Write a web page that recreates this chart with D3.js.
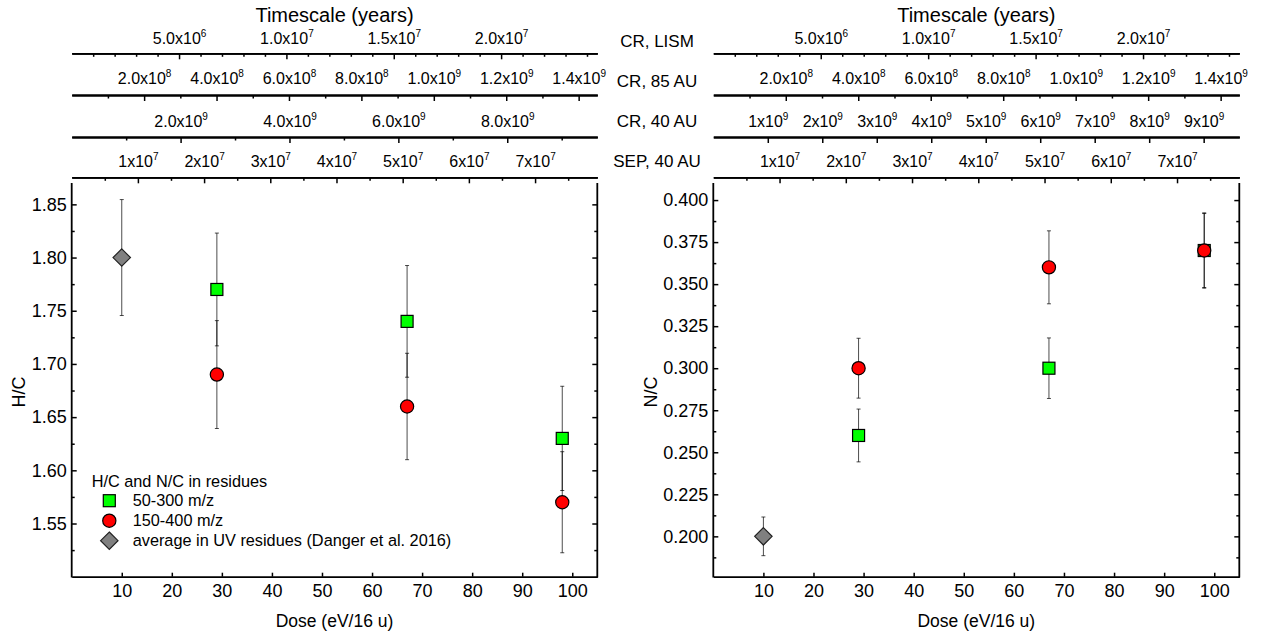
<!DOCTYPE html>
<html><head><meta charset="utf-8">
<script src="https://cdn.jsdelivr.net/npm/d3@7"></script>
<style>
body{margin:0;background:#fff}
svg{display:block;background:#fff}
text{font-family:"Liberation Sans",Arial,sans-serif;fill:#000}
</style></head><body>
<svg id="c" width="1263" height="631"></svg>
<script>
// ---------- data ----------
const doseTicks = [10,20,30,40,50,60,70,80,90,100];
const hcYTicks = [1.55,1.60,1.65,1.70,1.75,1.80,1.85];
const hcYMinor = [1.525,1.575,1.625,1.675,1.725,1.775,1.825];
const ncYTicks = [0.200,0.225,0.250,0.275,0.300,0.325,0.350,0.375,0.400];
const ncYMinor = [0.1875,0.2125,0.2375,0.2625,0.2875,0.3125,0.3375,0.3625,0.3875];

const uvDose = [10];
const uvHC = [1.80];      const uvHCErr = [0.0545];
const uvNC = [0.20];      const uvNCErr = [0.0115];

const msDose = [29, 67, 98];
const lowHC  = [1.77, 1.74, 1.63];   const lowHCErr  = [0.053, 0.0525, 0.049];
const highHC = [1.69, 1.66, 1.57];   const highHCErr = [0.0507, 0.050, 0.0475];
const lowNC  = [0.26, 0.30, 0.37];   const lowNCErr  = [0.0157, 0.018, 0.022];
const highNC = [0.30, 0.36, 0.37];   const highNCErr = [0.0178, 0.0217, 0.0224];

const rowNames = ["CR, LISM", "CR, 85 AU", "CR, 40 AU", "SEP, 40 AU"];
const lismMax = 2.448e7, au85Max = 1.4515e9, au40Max = 9.654e9, sepMax = 7.94e7;
const lismTicks = [5e6, 1e7, 1.5e7, 2e7];
const lismLabels = ["5.0x10^6","1.0x10^7","1.5x10^7","2.0x10^7"];
const au85Ticks = [2e8,4e8,6e8,8e8,1e9,1.2e9,1.4e9];
const au85Labels = ["2.0x10^8","4.0x10^8","6.0x10^8","8.0x10^8","1.0x10^9","1.2x10^9","1.4x10^9"];
const au40TicksL = [2e9,4e9,6e9,8e9];
const au40LabelsL = ["2.0x10^9","4.0x10^9","6.0x10^9","8.0x10^9"];
const au40TicksR = [1e9,2e9,3e9,4e9,5e9,6e9,7e9,8e9,9e9];
const au40LabelsR = ["1x10^9","2x10^9","3x10^9","4x10^9","5x10^9","6x10^9","7x10^9","8x10^9","9x10^9"];
const sepTicks = [1e7,2e7,3e7,4e7,5e7,6e7,7e7];
const sepLabels = ["1x10^7","2x10^7","3x10^7","4x10^7","5x10^7","6x10^7","7x10^7"];

const lismMinor = d3.range(1,25).filter(i=>i%5!==0).map(i=>i*1e6);
const au85Minor = d3.range(1,14,2).map(i=>i*1e8);
const au40MinorL = d3.range(1,10,2).map(i=>i*1e9);
const sepMinor = d3.range(0,8).map(i=>5e6+i*1e7);

const legendTitle = "H/C and N/C in residues";
const legendNames = ["50-300 m/z","150-400 m/z","average in UV residues (Danger et al. 2016)"];

// ---------- layout ----------
const svg = d3.select('#c');
const yTop = 176.7, yBot = 576.7, vTop = 183;
const rowY = [53.3, 95, 137, 177.3];
const rowPad = [9.3, 11, 9.7, 10];
const rowLabelBase = [46.7, 86.7, 126.7, 167.3];

const panels = [
  {x0:71.7, x1:597.3, yDom:[1.5,1.876], yT:hcYTicks, yM:hcYMinor, fmt:d3.format('.2f'), ylab:'H/C', ylabX:25,
   uv:[uvHC,uvHCErr], low:[lowHC,lowHCErr], high:[highHC,highHCErr],
   rows:[[lismMax,lismTicks,lismLabels,lismMinor],[au85Max,au85Ticks,au85Labels,au85Minor],[au40Max,au40TicksL,au40LabelsL,au40MinorL],[sepMax,sepTicks,sepLabels,sepMinor]], legend:true},
  {x0:713.3, x1:1239.3, yDom:[0.176,0.4139], yT:ncYTicks, yM:ncYMinor, fmt:d3.format('.3f'), ylab:'N/C', ylabX:657.3,
   uv:[uvNC,uvNCErr], low:[lowNC,lowNCErr], high:[highNC,highNCErr],
   rows:[[lismMax,lismTicks,lismLabels,lismMinor],[au85Max,au85Ticks,au85Labels,au85Minor],[au40Max,au40TicksR,au40LabelsR,[]],[sepMax,sepTicks,sepLabels,sepMinor]], legend:false}
];

function clean(g, fs){
  g.attr('font-family',null).attr('font-size',fs);
  g.selectAll('.tick line').attr('stroke-width',1.5);
  g.select('.domain').attr('stroke-width',1.8);
}

function supLabel(sel){
  sel.each(function(){
    const t = d3.select(this);
    const parts = t.text().split('^');
    t.text(parts[0]);
    t.append('tspan').attr('dy',-7.5).attr('font-size',10).text(parts[1]);
  });
}

function drawErr(g, x, y, xs, vs, es){
  const eg = g.append('g').attr('stroke','#000').attr('stroke-width',1).attr('stroke-opacity',0.7);
  xs.forEach((d,i)=>{
    const cx = x(d), yt = y(vs[i]+es[i]), yb = y(vs[i]-es[i]);
    eg.append('line').attr('x1',cx).attr('x2',cx).attr('y1',yt).attr('y2',yb);
    eg.append('line').attr('x1',cx-2).attr('x2',cx+2).attr('y1',yt).attr('y2',yt);
    eg.append('line').attr('x1',cx-2).attr('x2',cx+2).attr('y1',yb).attr('y2',yb);
  });
}
const sq = (g,cx,cy)=>g.append('rect').attr('x',cx-6).attr('y',cy-6).attr('width',12).attr('height',12)
  .attr('fill','#00ff00').attr('stroke','#000').attr('stroke-width',1.2);
const ci = (g,cx,cy)=>g.append('circle').attr('cx',cx).attr('cy',cy).attr('r',6.6)
  .attr('fill','#ff0000').attr('stroke','#000').attr('stroke-width',1.2);
const di = (g,cx,cy)=>g.append('path').attr('d',`M${cx},${cy-8.7}L${cx+8.7},${cy}L${cx},${cy+8.7}L${cx-8.7},${cy}Z`)
  .attr('fill','#808080').attr('stroke','#222').attr('stroke-width',1.2);

panels.forEach(p=>{
  const x = d3.scaleLinear().domain([0,105]).range([p.x0,p.x1]);
  const y = d3.scaleLinear().domain(p.yDom).range([yBot,yTop]);
  const g = svg.append('g');

  // title
  g.append('text').attr('x',(p.x0+p.x1)/2).attr('y',22).attr('text-anchor','middle')
    .attr('font-size',20).text('Timescale (years)');

  // top timescale axes
  p.rows.forEach((r,i)=>{
    const s = d3.scaleLinear().domain([0,r[0]]).range([p.x0,p.x1]);
    const gm = g.append('g').attr('transform',`translate(0,${rowY[i]})`)
      .call(d3.axisTop(s).tickValues(r[3]).tickSize(-3.5).tickSizeOuter(0).tickFormat(''));
    clean(gm,16);
    const ga = g.append('g').attr('transform',`translate(0,${rowY[i]})`)
      .call(d3.axisTop(s).tickValues(r[1]).tickSize(-6).tickSizeOuter(0).tickPadding(rowPad[i]).tickFormat((d,k)=>r[2][k]));
    clean(ga,16);
    supLabel(ga.selectAll('.tick text'));
  });

  // bottom axis
  const gb = g.append('g').attr('transform',`translate(0,${yBot})`)
    .call(d3.axisBottom(x).tickValues(doseTicks).tickSize(-4).tickSizeOuter(0).tickPadding(8));
  clean(gb,18);

  // left axis
  const gl = g.append('g').attr('transform',`translate(${p.x0},0)`)
    .call(d3.axisLeft(y).tickValues(p.yT).tickSize(-5).tickSizeOuter(0).tickPadding(5).tickFormat(p.fmt));
  clean(gl,18); gl.select('.domain').remove();
  const glm = g.append('g').attr('transform',`translate(${p.x0},0)`)
    .call(d3.axisLeft(y).tickValues(p.yM).tickSize(-3).tickSizeOuter(0).tickFormat(''));
  clean(glm,18); glm.select('.domain').remove();
  // right axis
  const gr = g.append('g').attr('transform',`translate(${p.x1},0)`)
    .call(d3.axisRight(y).tickValues(p.yT).tickSize(-5).tickSizeOuter(0).tickFormat(''));
  clean(gr,18); gr.select('.domain').remove();
  const grm = g.append('g').attr('transform',`translate(${p.x1},0)`)
    .call(d3.axisRight(y).tickValues(p.yM).tickSize(-3).tickSizeOuter(0).tickFormat(''));
  clean(grm,18); grm.select('.domain').remove();
  // vertical frame lines
  [p.x0,p.x1].forEach(xx=>g.append('line').attr('x1',xx).attr('x2',xx).attr('y1',vTop).attr('y2',yBot+0.9)
    .attr('stroke','#000').attr('stroke-width',1.8));

  // axis labels
  g.append('text').attr('x',(p.x0+p.x1)/2).attr('y',626.5).attr('text-anchor','middle')
    .attr('font-size',17.5).text('Dose (eV/16 u)');
  g.append('text').attr('transform',`translate(${p.ylabX},392) rotate(-90)`).attr('text-anchor','middle')
    .attr('font-size',18).text(p.ylab);

  // data
  drawErr(g,x,y,uvDose,p.uv[0],p.uv[1]);
  drawErr(g,x,y,msDose,p.low[0],p.low[1]);
  drawErr(g,x,y,msDose,p.high[0],p.high[1]);
  uvDose.forEach((d,i)=>di(g,x(d),y(p.uv[0][i])));
  msDose.forEach((d,i)=>sq(g,x(d),y(p.low[0][i])));
  msDose.forEach((d,i)=>ci(g,x(d),y(p.high[0][i])));

  if(p.legend){
    const lg = g.append('g');
    lg.append('text').attr('x',91.7).attr('y',486.7).attr('font-size',16.3).text(legendTitle);
    const mk = [sq,ci,di];
    legendNames.forEach((n,i)=>{
      mk[i](lg,109.3,500.7+20*i);
      lg.append('text').attr('x',132.7).attr('y',506+20*i).attr('font-size',16.3).text(n);
    });
  }
});

// row labels between panels
rowNames.forEach((n,i)=>{
  svg.append('text').attr('x',657).attr('y',rowLabelBase[i]).attr('text-anchor','middle')
    .attr('font-size',17).text(n);
});
</script>
</body></html>
